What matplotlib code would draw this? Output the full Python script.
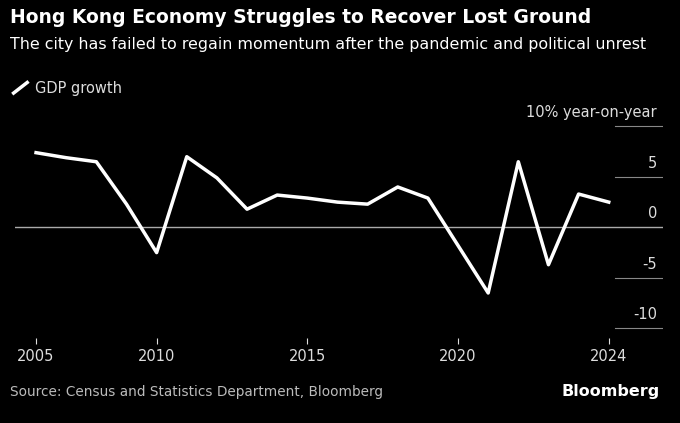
import matplotlib.pyplot as plt

# GDP growth, % year-on-year
idx = list(range(20))
gdp = [7.4, 6.9, 6.5, 2.3, -2.5, 7.0, 4.9, 1.8, 3.2, 2.9, 2.5, 2.3, 4.0, 2.9,
       -1.8, -6.5, 6.5, -3.7, 3.3, 2.5]
tick_pos = [0, 4, 9, 14, 19]
tick_lab = ["2005", "2010", "2015", "2020", "2024"]
y_ticks = [10, 5, 0, -5, -10]
y_labels = ["10% year-on-year", "5", "0", "-5", "-10"]

fig = plt.figure(figsize=(6.8, 4.23), dpi=100, facecolor="black")
ax = fig.add_axes([0.022, 0.2, 0.953, 0.525], facecolor="black")
ax.set_xlim(-0.7, 20.8)
ax.set_ylim(-11, 11)

ax.axhline(0, color="#aaaaaa", lw=1, zorder=1)
for v, lab in zip(y_ticks, y_labels):
    if v != 0:
        ax.plot([19.2, 20.8], [v, v], color="#888888", lw=0.8)
    ax.text(20.6, v + 0.6, lab, color="#dddddd", ha="right", va="bottom", fontsize=10.5)

ax.plot(idx, gdp, color="white", lw=2.5, zorder=3)

ax.set_xticks(tick_pos)
ax.set_xticklabels(tick_lab, color="#dddddd", fontsize=10.5)
ax.tick_params(axis="x", colors="#dddddd", length=4, labelsize=10.5)
ax.set_yticks([])
for s in ax.spines.values():
    s.set_visible(False)

fig.text(0.015, 0.945, "Hong Kong Economy Struggles to Recover Lost Ground",
         color="white", fontsize=13.5, fontweight="bold")
fig.text(0.015, 0.885, "The city has failed to regain momentum after the pandemic and political unrest",
         color="white", fontsize=11.4)
fig.lines.append(plt.Line2D([0.02, 0.04], [0.78, 0.805], color="white", lw=2.5,
                            transform=fig.transFigure))
fig.text(0.052, 0.78, "GDP growth", color="#dddddd", fontsize=10.5)
fig.text(0.015, 0.065, "Source: Census and Statistics Department, Bloomberg",
         color="#bbbbbb", fontsize=9.8)
fig.text(0.97, 0.065, "Bloomberg", color="white", fontsize=11.5,
         fontweight="bold", ha="right")

fig.savefig("out.png", facecolor="black")
